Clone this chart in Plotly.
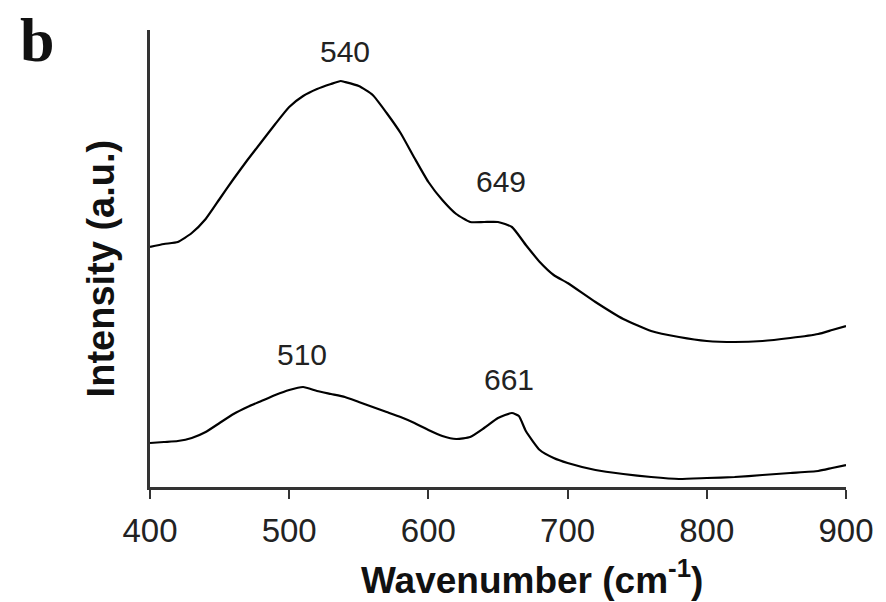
import plotly.graph_objects as go

# Upper spectrum
wn_upper = [400, 410, 420, 430, 440, 450, 460, 470, 480, 490, 500, 510, 520, 530, 537, 540,
            550, 560, 570, 580, 590, 600, 610, 620, 630, 640, 650, 660, 670, 680, 690, 700,
            720, 740, 760, 780, 800, 820, 840, 860, 880, 890, 900]
int_upper = [240, 243, 245, 254, 268, 288, 308, 327, 345, 363, 380, 391, 398, 403, 406, 405,
             401, 392, 374, 354, 329, 305, 287, 273, 265, 265, 265, 260, 242, 225, 212, 204,
             185, 168, 156, 150, 146, 145, 146, 149, 153, 157, 161]

# Lower spectrum
wn_lower = [400, 410, 420, 430, 440, 450, 460, 470, 480, 490, 500, 510, 520, 530, 540, 550,
            560, 570, 580, 590, 600, 610, 620, 630, 640, 650, 660, 665, 670, 680, 690, 700,
            720, 740, 760, 780, 800, 820, 840, 860, 880, 890, 900]
int_lower = [44, 45, 46, 49, 55, 64, 73, 80, 86, 92, 97, 100, 96, 93, 90, 85,
             80, 75, 70, 64, 57, 51, 48, 50, 59, 69, 74, 71, 56, 37, 29, 24,
             17, 13, 10, 8, 9, 10, 12, 14, 16, 19, 22]

# Peak labels
peak_text = ["540", "649", "510", "661"]
peak_x = [540, 652, 509, 658]
peak_y = [436, 306, 133, 108]

x_ticks = [400, 500, 600, 700, 800, 900]

fig = go.Figure()
for xs, ys in [(wn_upper, int_upper), (wn_lower, int_lower)]:
    fig.add_trace(go.Scatter(x=xs, y=ys, mode="lines",
                             line=dict(color="black", width=2.2, shape="spline", smoothing=0.5),
                             showlegend=False, hoverinfo="skip"))

for t, x, y in zip(peak_text, peak_x, peak_y):
    fig.add_annotation(x=x, y=y, text=t, showarrow=False,
                       font=dict(family="Liberation Sans, Arial", size=30, color="#222"),
                       xanchor="center", yanchor="middle")

fig.add_annotation(xref="paper", yref="paper", x=0.549, y=-0.197,
                   text="<b>Wavenumber (cm<sup>-1</sup>)</b>", showarrow=False,
                   font=dict(family="Liberation Sans, Arial", size=37, color="#111"),
                   xanchor="center", yanchor="middle")
fig.add_annotation(xref="paper", yref="paper", x=-0.07, y=0.479,
                   text="<b>Intensity (a.u.)</b>", showarrow=False, textangle=-90,
                   font=dict(family="Liberation Sans, Arial", size=38, color="#111"),
                   xanchor="center", yanchor="middle")
fig.add_annotation(xref="paper", yref="paper", x=-0.1626, y=0.978,
                   text="<b>b</b>", showarrow=False,
                   font=dict(family="Liberation Serif, Times New Roman", size=62, color="#111"),
                   xanchor="center", yanchor="middle")

fig.update_layout(
    width=886, height=602,
    margin=dict(l=150, r=30, t=30, b=115),
    plot_bgcolor="white", paper_bgcolor="white",
    xaxis=dict(range=[400, 900], tickvals=x_ticks, ticks="outside", ticklen=9, tickwidth=2,
               tickcolor="#333", showline=True, linecolor="#333", linewidth=2.5,
               showgrid=False, zeroline=False,
               tickfont=dict(family="Liberation Sans, Arial", size=33, color="#222"),
               ticklabelstandoff=4),
    yaxis=dict(range=[0, 457], showticklabels=False, ticks="", showline=True,
               linecolor="#333", linewidth=2.5, showgrid=False, zeroline=False),
)

fig.write_html("out.html")
